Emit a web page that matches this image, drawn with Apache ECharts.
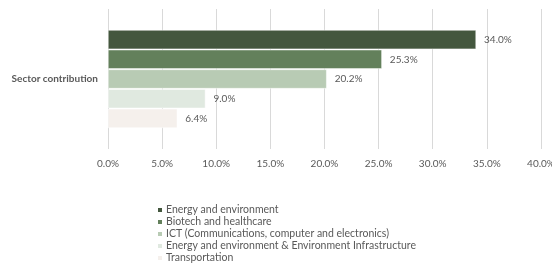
<!DOCTYPE html>
<html lang="en" style="height: 100%">
<head>
  <meta charset="utf-8">
</head>
<body style="height: 100%; margin: 0; background: #fff">
  <div id="container" style="width: 552px; height: 268px"></div>
  <script type="text/javascript" src="https://cdn.jsdelivr.net/npm/echarts@6/dist/echarts.min.js"></script>
  <script type="text/javascript">
    var categories = ['Sector contribution'];
    var sectors = [
      'Energy and environment',
      'Biotech and healthcare',
      'ICT (Communications, computer and electronics)',
      'Energy and environment & Environment Infrastructure',
      'Transportation'
    ];
    var shares = [0.340, 0.253, 0.202, 0.090, 0.064];
    var colors = ['#44573e', '#63805b', '#b8cbb4', '#e0e9e0', '#f5f0ec'];
    var ticks = [0, 0.05, 0.1, 0.15, 0.2, 0.25, 0.3, 0.35, 0.4];

    var font = 'Lato, "Open Sans", sans-serif';
    var textColor = '#595959';

    var dom = document.getElementById('container');
    var myChart = echarts.init(dom, null, { renderer: 'canvas' });

    var series = sectors.map(function (name, i) {
      return {
        name: name,
        type: 'bar',
        data: [shares[i]],
        barGap: '3%',
        barCategoryGap: '30%',
        itemStyle: { color: colors[i], borderColor: '#ffffff', borderWidth: 0.5 },
        label: {
          show: true,
          position: 'right',
          distance: 8,
          color: textColor,
          fontFamily: font,
          fontSize: 10,
          formatter: function (p) { return (p.value * 100).toFixed(1) + '%'; }
        }
      };
    });

    var option = {
      animation: false,
      color: colors,
      grid: { left: 108, right: 11, top: 9, bottom: 119, outerBoundsMode: 'none', containLabel: false },
      xAxis: {
        type: 'value',
        min: ticks[0],
        max: ticks[ticks.length - 1],
        interval: 0.05,
        axisLine: { show: false },
        axisTick: { show: false },
        splitLine: { lineStyle: { color: '#d9d9d9', width: 1 } },
        axisLabel: {
          color: textColor,
          fontFamily: font,
          fontSize: 10,
          margin: 10,
          formatter: function (v) { return (v * 100).toFixed(1) + '%'; }
        }
      },
      yAxis: {
        type: 'category',
        data: categories,
        inverse: true,
        axisLine: { show: false },
        axisTick: { show: false },
        axisLabel: {
          color: textColor,
          fontFamily: font,
          fontSize: 10,
          fontWeight: 'bold',
          margin: 10
        }
      },
      legend: {
        orient: 'vertical',
        left: 151,
        top: 199,
        height: 80,
        icon: 'rect',
        itemWidth: 6,
        itemHeight: 6,
        itemGap: 0,
        textStyle: {
          color: textColor,
          fontFamily: font,
          fontSize: 10.5,
          lineHeight: 12,
          padding: [0, 0, 0, -2]
        },
        data: sectors
      },
      series: series
    };

    myChart.setOption(option);
    window.addEventListener('resize', myChart.resize);
  </script>
</body>
</html>
